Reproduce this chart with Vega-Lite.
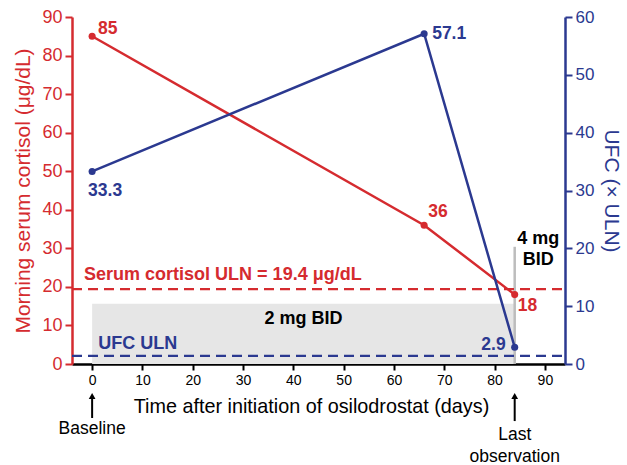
{
  "$schema": "https://vega.github.io/schema/vega-lite/v6.json",
  "width": 493,
  "height": 347,
  "autosize": {"type": "none"},
  "padding": {"left": 72, "top": 17, "right": 62, "bottom": 101},
  "config": {"font": "Liberation Sans", "view": {"stroke": null}},
  "datasets": {
    "cortisol": [
      {"day": 0, "value": 85, "label": "85"},
      {"day": 66, "value": 36, "label": "36"},
      {"day": 84, "value": 18, "label": "18"}
    ],
    "ufc": [
      {"day": 0, "value": 33.3, "label": "33.3"},
      {"day": 66, "value": 57.1, "label": "57.1"},
      {"day": 84, "value": 2.9, "label": "2.9"}
    ]
  },
  "layer": [
    {
      "encoding": {
        "x": {"field": "day", "type": "quantitative", "scale": {"domain": [-4, 94], "nice": false, "zero": false},
          "axis": {"title": "Time after initiation of osilodrostat (days)", "values": [0,10,20,30,40,50,60,70,80,90], "grid": false,
            "domainColor": "black", "domainWidth": 2.5, "tickColor": "black", "tickWidth": 2, "tickSize": 6, "labelOverlap": false,
            "labelFontSize": 14, "labelColor": "black", "labelPadding": 3, "titleFontSize": 19.8, "titleFontWeight": "normal", "titleColor": "black", "titlePadding": 9, "titleX": 239}},
        "y": {"field": "value", "type": "quantitative", "scale": {"domain": [0, 90], "nice": false},
          "axis": {"title": "Morning serum cortisol (μg/dL)", "values": [0,10,20,30,40,50,60,70,80,90], "grid": false, "labelOverlap": false, "labelSeparation": 0,
            "domainColor": "#d52b2f", "domainWidth": 2.5, "tickColor": "#d52b2f", "tickWidth": 2, "tickSize": 7,
            "labelFontSize": 18, "labelColor": "#d52b2f", "labelPadding": 3, "titleFontSize": 21, "titleFontWeight": "normal", "titleColor": "#d52b2f", "titlePadding": 8}}
      },
      "layer": [
        {
          "data": {"values": [{"day": 0, "day2": 84, "value": 0, "value2": 15.6}]},
          "mark": {"type": "rect", "color": "#e6e6e6"},
          "encoding": {"x2": {"field": "day2"}, "y2": {"field": "value2"}}
        },
        {
          "data": {"values": [{"day": 84, "value": 0, "value2": 30.4}]},
          "mark": {"type": "rule", "color": "#bdbdbd", "strokeWidth": 2.5},
          "encoding": {"y2": {"field": "value2"}}
        },
        {
          "data": {"values": [{"day": -4, "day2": 94, "value": 19.4}]},
          "mark": {"type": "rule", "color": "#d52b2f", "strokeWidth": 2.2, "strokeDash": [10, 6]},
          "encoding": {"x2": {"field": "day2"}}
        },
        {
          "data": {"name": "cortisol"},
          "mark": {"type": "line", "color": "#d52b2f", "strokeWidth": 2.5}
        },
        {
          "data": {"name": "cortisol"},
          "mark": {"type": "point", "filled": true, "opacity": 1, "color": "#d52b2f", "size": 50}
        },
        {
          "data": {"name": "cortisol"},
          "transform": [{"filter": "datum.day == 0"}],
          "mark": {"type": "text", "color": "#d52b2f", "fontWeight": "bold", "fontSize": 17.5, "align": "left", "baseline": "middle", "dx": 6, "dy": -7},
          "encoding": {"text": {"field": "label"}}
        },
        {
          "data": {"name": "cortisol"},
          "transform": [{"filter": "datum.day == 66"}],
          "mark": {"type": "text", "color": "#d52b2f", "fontWeight": "bold", "fontSize": 17.5, "align": "left", "baseline": "middle", "dx": 4, "dy": -13},
          "encoding": {"text": {"field": "label"}}
        },
        {
          "data": {"name": "cortisol"},
          "transform": [{"filter": "datum.day == 84"}],
          "mark": {"type": "text", "color": "#d52b2f", "fontWeight": "bold", "fontSize": 17.5, "align": "left", "baseline": "middle", "dx": 3, "dy": 11},
          "encoding": {"text": {"field": "label"}}
        },
        {
          "data": {"values": [{"day": -1.6, "value": 23.1, "text": "Serum cortisol ULN = 19.4 μg/dL"}]},
          "mark": {"type": "text", "color": "#d52b2f", "fontWeight": "bold", "fontSize": 18, "align": "left", "baseline": "middle"},
          "encoding": {"text": {"field": "text"}}
        },
        {
          "data": {"values": [{"day": 1.2, "value": 5.1, "text": "UFC ULN"}]},
          "mark": {"type": "text", "color": "#2b3990", "fontWeight": "bold", "fontSize": 18, "align": "left", "baseline": "middle"},
          "encoding": {"text": {"field": "text"}}
        },
        {
          "data": {"values": [
            {"day": 42, "value": 11.8, "text": "2 mg BID"},
            {"day": 88.7, "value": 32.4, "text": "4 mg"},
            {"day": 88.7, "value": 27, "text": "BID"}
          ]},
          "mark": {"type": "text", "color": "black", "fontWeight": "bold", "fontSize": 18, "align": "center", "baseline": "middle"},
          "encoding": {"text": {"field": "text"}}
        },
        {
          "data": {"values": [{"day": 0, "value": -8.2, "value2": -14}, {"day": 84, "value": -8.2, "value2": -14.8}]},
          "mark": {"type": "rule", "color": "black", "strokeWidth": 2},
          "encoding": {"y2": {"field": "value2"}}
        },
        {
          "data": {"values": [{"day": 0, "value": -8.3}, {"day": 84, "value": -8.3}]},
          "mark": {"type": "point", "shape": "triangle-up", "filled": true, "opacity": 1, "color": "black", "size": 45}
        },
        {
          "data": {"values": [
            {"day": 0, "value": -16.9, "text": "Baseline"},
            {"day": 84, "value": -18.4, "text": "Last"},
            {"day": 84, "value": -24, "text": "observation"}
          ]},
          "mark": {"type": "text", "color": "black", "fontSize": 17.5, "align": "center", "baseline": "middle"},
          "encoding": {"text": {"field": "text"}}
        }
      ]
    },
    {
      "encoding": {
        "x": {"field": "day", "type": "quantitative", "scale": {"domain": [-4, 94], "nice": false, "zero": false},
          "axis": {"title": "Time after initiation of osilodrostat (days)", "values": [0,10,20,30,40,50,60,70,80,90], "grid": false,
            "domainColor": "black", "domainWidth": 2.5, "tickColor": "black", "tickWidth": 2, "tickSize": 6, "labelOverlap": false,
            "labelFontSize": 14, "labelColor": "black", "labelPadding": 3, "titleFontSize": 19.8, "titleFontWeight": "normal", "titleColor": "black", "titlePadding": 9, "titleX": 239}},
        "y": {"field": "value", "type": "quantitative", "scale": {"domain": [0, 60], "nice": false},
          "axis": {"orient": "right", "title": "UFC (× ULN)", "values": [0,10,20,30,40,50,60], "grid": false, "labelOverlap": false,
            "domainColor": "#2b3990", "domainWidth": 2.5, "tickColor": "#2b3990", "tickWidth": 2, "tickSize": 7,
            "labelFontSize": 17, "labelColor": "#2b3990", "labelPadding": 3, "titleFontSize": 21, "titleFontWeight": "normal", "titleColor": "#2b3990", "titlePadding": 7}}
      },
      "layer": [
        {
          "data": {"values": [{"day": -4, "day2": 94, "value": 1.4}]},
          "mark": {"type": "rule", "color": "#2b3990", "strokeWidth": 2.2, "strokeDash": [10, 6]},
          "encoding": {"x2": {"field": "day2"}}
        },
        {
          "data": {"name": "ufc"},
          "mark": {"type": "line", "color": "#2b3990", "strokeWidth": 2.5}
        },
        {
          "data": {"name": "ufc"},
          "mark": {"type": "point", "filled": true, "opacity": 1, "color": "#2b3990", "size": 50}
        },
        {
          "data": {"name": "ufc"},
          "transform": [{"filter": "datum.day == 0"}],
          "mark": {"type": "text", "color": "#2b3990", "fontWeight": "bold", "fontSize": 17.5, "align": "left", "baseline": "middle", "dx": -4, "dy": 20},
          "encoding": {"text": {"field": "label"}}
        },
        {
          "data": {"name": "ufc"},
          "transform": [{"filter": "datum.day == 66"}],
          "mark": {"type": "text", "color": "#2b3990", "fontWeight": "bold", "fontSize": 17.5, "align": "left", "baseline": "middle", "dx": 8, "dy": 0},
          "encoding": {"text": {"field": "label"}}
        },
        {
          "data": {"name": "ufc"},
          "transform": [{"filter": "datum.day == 84"}],
          "mark": {"type": "text", "color": "#2b3990", "fontWeight": "bold", "fontSize": 17.5, "align": "right", "baseline": "middle", "dx": -9, "dy": -2},
          "encoding": {"text": {"field": "label"}}
        }
      ]
    }
  ],
  "resolve": {"scale": {"y": "independent"}}
}
